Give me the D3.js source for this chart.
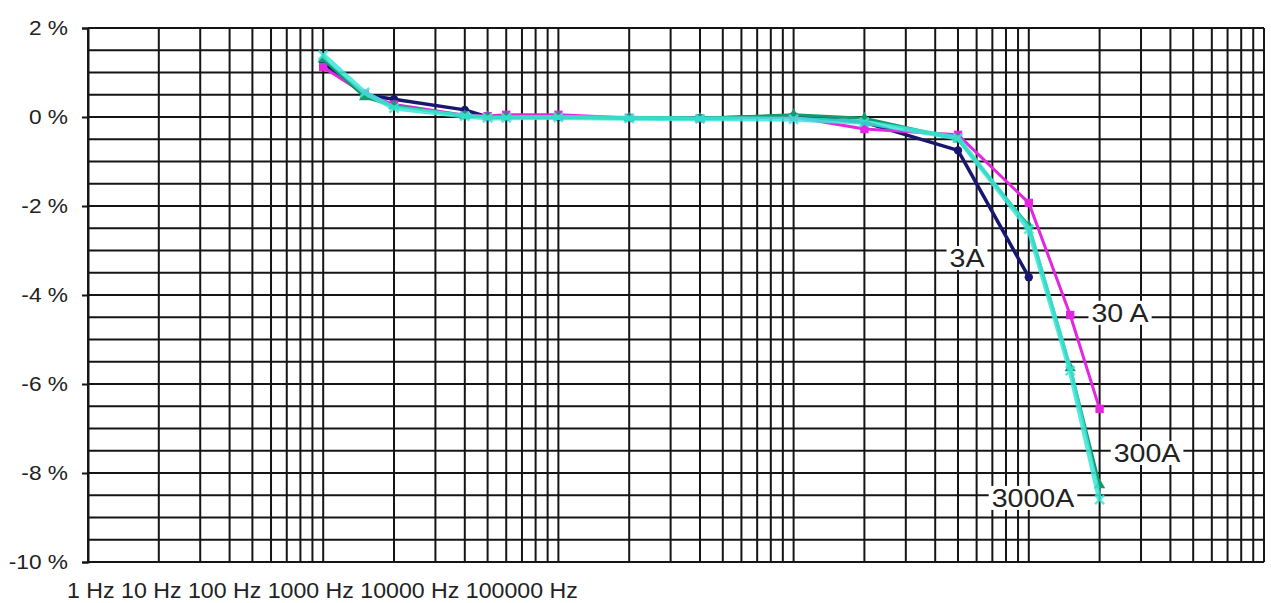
<!DOCTYPE html>
<html>
<head>
<meta charset="utf-8">
<script src="https://cdn.jsdelivr.net/npm/d3@7"></script>
<style>
  html, body { margin: 0; padding: 0; background: #fff; }
  svg { display: block; font-family: "Liberation Sans", Arial, sans-serif; }
</style>
</head>
<body>
<svg id="chart" width="1271" height="603"></svg>
<script>
// ---- data ----
const frequencies = [10, 15, 20, 40, 50, 60, 100, 200, 400, 1000, 2000, 5000, 10000, 15000, 20000];
const series3A    = [1.22, 0.50, 0.40, 0.16, 0.00, 0.00, 0.00, -0.02, -0.03, 0.02, -0.12, -0.75, -3.60];
const series30A   = [1.12, 0.52, 0.28, 0.04, 0.02, 0.05, 0.05, -0.02, -0.03, 0.00, -0.27, -0.40, -1.93, -4.45, -6.56];
const series300A  = [1.30, 0.45, 0.25, 0.03, 0.00, 0.00, 0.00, -0.02, -0.03, 0.05, -0.03, -0.50, -2.45, -5.64, -8.27];
const series3000A = [1.39, 0.55, 0.20, 0.02, -0.02, -0.02, -0.01, -0.03, -0.04, -0.05, -0.12, -0.47, -2.52, -5.70, -8.60];
const seriesNames = ["3A", "30 A", "300A", "3000A"];
// label anchors in data units: [frequency Hz, value %]
const labelAnchors = [[5460, -3.17], [24430, -4.40], [31830, -7.55], [10420, -8.56]];
const yTickValues = [2, 0, -2, -4, -6, -8, -10];
const xTickValues = [1, 10, 100, 1000, 10000, 100000];

// ---- layout ----
const svg = d3.select("#chart");
const mLeft = 88, mRight = 1264, mTop = 28, mBottom = 562;
const x = d3.scaleLog().domain([1, 100000]).range([mLeft, mRight]);
const y = d3.scaleLinear().domain([-10, 2]).range([mBottom, mTop]);

// widen text glyphs slightly (source text is horizontally stretched)
function stretch(sel, k) {
  sel.each(function () {
    const len = this.getComputedTextLength();
    d3.select(this).attr("textLength", len * k).attr("lengthAdjust", "spacingAndGlyphs");
  });
}

// grid
const gridColor = "#151515";
const vLines = [];
for (let d = 1; d < 100000; d *= 10) for (let k = 1; k <= 9; k++) vLines.push(k * d);
vLines.push(100000);
const hLines = d3.range(-10, 2.001, 0.5);
const grid = svg.append("g");
grid.selectAll("line.h").data(hLines).join("line")
  .attr("x1", mLeft).attr("x2", mRight)
  .attr("y1", d => y(d)).attr("y2", d => y(d))
  .attr("stroke", gridColor).attr("stroke-width", 2);
grid.selectAll("line.v").data(vLines).join("line")
  .attr("x1", d => x(d)).attr("x2", d => x(d))
  .attr("y1", mTop).attr("y2", mBottom)
  .attr("stroke", gridColor).attr("stroke-width", 2);

// y axis
const yAxis = d3.axisLeft(y).tickValues(yTickValues).tickSize(6).tickPadding(14)
  .tickFormat(d => d + " %");
const ya = svg.append("g").attr("transform", `translate(${mLeft},0)`).call(yAxis);
ya.select(".domain").attr("stroke", gridColor).attr("stroke-width", 2);
ya.selectAll(".tick line").attr("stroke", gridColor).attr("stroke-width", 2);
ya.selectAll(".tick text").attr("font-size", 21).attr("fill", "#222")
  .attr("font-family", "'Liberation Sans', Arial, sans-serif");
stretch(ya.selectAll(".tick text"), 1.08);

// x labels (crammed text as in source)
const xl = svg.append("text")
  .attr("x", 67).attr("y", 597.5)
  .attr("font-size", 22).attr("fill", "#222")
  .text(xTickValues.map(v => v + " Hz").join(" "));
stretch(xl, 1.052);

// series
const allSeries = [
  { name: seriesNames[0], values: series3A,    color: "#17176f", width: 3.5, marker: "circle",   opacity: 1 },
  { name: seriesNames[1], values: series30A,   color: "#e326e0", width: 3,   marker: "square",   opacity: 1 },
  { name: seriesNames[2], values: series300A,  color: "#159a6c", width: 3,   marker: "triangle", opacity: 1 },
  { name: seriesNames[3], values: series3000A, color: "#3ce8d8", width: 5,   marker: "cross",    opacity: 0.85 }
];
const line = d3.line().x(d => x(d[0])).y(d => y(d[1]));
const symbolMap = { circle: d3.symbolCircle, square: d3.symbolSquare, cross: d3.symbolX, triangle: d3.symbolTriangle };
const symbolSize = { circle: 55, square: 70, cross: 55, triangle: 55 };
allSeries.forEach(s => {
  const pts = s.values.map((v, i) => [frequencies[i], v]);
  const g = svg.append("g").attr("opacity", s.opacity);
  g.append("path").datum(pts).attr("d", line)
    .attr("fill", "none").attr("stroke", s.color).attr("stroke-width", s.width)
    .attr("stroke-linejoin", "round");
  const sym = d3.symbol().type(symbolMap[s.marker]).size(symbolSize[s.marker]);
  g.selectAll("path.m").data(pts).join("path")
    .attr("transform", d => `translate(${x(d[0])},${y(d[1])})`)
    .attr("d", sym)
    .attr("fill", s.color)
    .attr("stroke", s.color).attr("stroke-width", s.marker === "cross" ? 2.5 : 0);
});

// series labels with white boxes
const lab = svg.append("g");
labelAnchors.forEach((a, i) => {
  const t = lab.append("text")
    .attr("x", x(a[0])).attr("y", y(a[1]))
    .attr("text-anchor", "middle").attr("dominant-baseline", "central")
    .attr("font-size", 25.5).attr("fill", "#222")
    .text(seriesNames[i]);
  stretch(t, 1.12);
  const bb = t.node().getBBox();
  lab.insert("rect", () => t.node())
    .attr("x", bb.x - 3).attr("y", bb.y + 2).attr("width", bb.width + 6).attr("height", bb.height - 4)
    .attr("fill", "#fff");
});
</script>
</body>
</html>
